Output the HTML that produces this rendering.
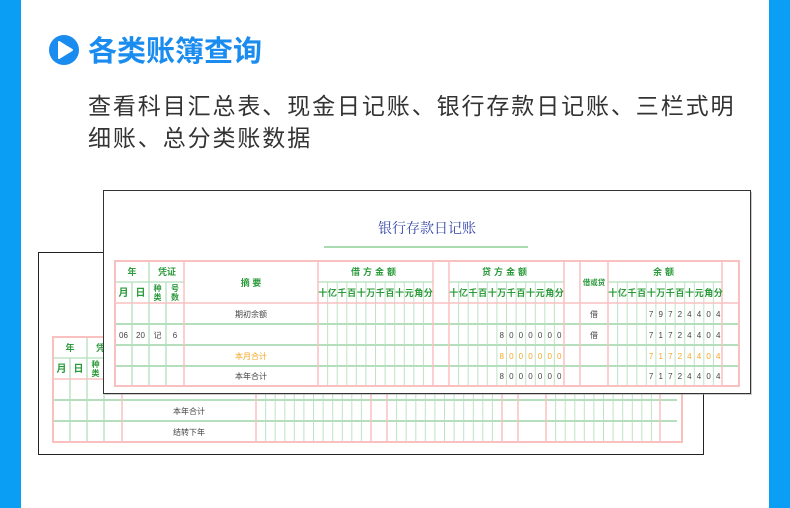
<!DOCTYPE html>
<html><head><meta charset="utf-8"><style>
html,body{margin:0;padding:0;background:#fff;}
svg{display:block;}
.h{font-family:"Liberation Sans","Noto Sans CJK SC",sans-serif;}
.g{fill:#2a9a3a;font-weight:bold;font-family:"Liberation Sans","Noto Sans CJK SC",sans-serif;}
.d{fill:#444;font-family:"Liberation Sans","Noto Sans CJK SC",sans-serif;font-size:8px;}
.o{fill:#f5a623;}
</style></head><body>
<svg width="790" height="508" viewBox="0 0 790 508" xmlns="http://www.w3.org/2000/svg">
<defs>
<g id="grid" fill="none">
  <path stroke="#bfe3c4" stroke-width="1" d="M212.6 21V125M222.2 21V125M231.8 21V125M241.3 21V125M250.9 21V125M260.5 21V125M270.1 21V125M279.7 21V125M289.3 21V125M298.8 21V125M308.4 21V125
  M343.6 21V125M353.2 21V125M362.8 21V125M372.3 21V125M381.9 21V125M391.5 21V125M401.1 21V125M410.7 21V125M420.3 21V125M429.8 21V125M439.4 21V125
  M502.6 21V125M512.2 21V125M521.8 21V125M531.3 21V125M540.9 21V125M550.5 21V125M560.1 21V125M569.7 21V125M579.3 21V125M588.8 21V125M598.4 21V125"/>
  <path stroke="#b5dfbc" stroke-width="1.3" d="M17 21V125M34 0V125M51 21V125M0 21H69M203 21H318M334 21H449M493 21H607"/>
  <path stroke="#b5dfbc" stroke-width="2" d="M0 63H624M0 84H624M0 105H624"/>
  <path stroke="#f9c0c0" stroke-width="1.5" d="M69 0V125M203 0V125M318 0V125M334 0V125M449 0V125M465 0V125M493 0V125M607 0V125M0 42H624"/>
</g>
<clipPath id="bc"><rect x="0" y="0" width="624" height="105"/></clipPath>
</defs>

<rect x="0" y="0" width="21" height="508" fill="#0a9ff5"/>
<rect x="769" y="0" width="21" height="508" fill="#0a9ff5"/>

<circle cx="64" cy="50" r="15" fill="#1a8cf0"/>
<path d="M59 42 L72 50 L59 58 Z" fill="#fff" stroke="#fff" stroke-width="2" stroke-linejoin="round"/>
<text x="88" y="61" class="h" font-size="29" font-weight="bold" fill="#1a8cf0">各类账簿查询</text>
<text x="88" y="114" class="h" font-size="23" fill="#333" letter-spacing="1.9">查看科目汇总表、现金日记账、银行存款日记账、三栏式明</text>
<text x="88" y="146" class="h" font-size="23" fill="#333" letter-spacing="1.9">细账、总分类账数据</text>

<rect x="38.5" y="252.5" width="665" height="202" fill="#fff" stroke="#222" stroke-width="1"/>
<g transform="translate(53,337)">
  <g clip-path="url(#bc)"><use href="#grid"/></g>
  <rect x="0" y="0" width="629" height="105" fill="none" stroke="#f9c0c0" stroke-width="2"/>
  <text x="17" y="14" class="g" font-size="9" text-anchor="middle">年</text>
  <text x="52" y="14" class="g" font-size="9" text-anchor="middle">凭证</text>
  <text x="8.5" y="35" class="g" font-size="10" text-anchor="middle">月</text>
  <text x="25.5" y="35" class="g" font-size="10" text-anchor="middle">日</text>
  <text x="42.5" y="30" class="g" font-size="8" text-anchor="middle">种</text>
  <text x="42.5" y="39" class="g" font-size="8" text-anchor="middle">类</text>
  <text x="136" y="56" class="d" text-anchor="middle">期初余额</text>
  <text x="136" y="77" class="d" text-anchor="middle">本年合计</text>
  <text x="136" y="98" class="d" text-anchor="middle">结转下年</text>
</g>

<rect x="105" y="192" width="647" height="203" fill="#999" opacity="0.5"/>
<rect x="103.5" y="190.5" width="647" height="203" fill="#fff" stroke="#333" stroke-width="1"/>
<text x="427" y="233" font-family="'Liberation Serif','Noto Serif CJK SC',serif" font-size="14" fill="#3344aa" text-anchor="middle">银行存款日记账</text>
<line x1="324" y1="247" x2="528" y2="247" stroke="#a8dcb0" stroke-width="2"/>

<g transform="translate(115,261)">
  <use href="#grid"/>
  <rect x="0" y="0" width="624" height="125" fill="none" stroke="#f9c0c0" stroke-width="2"/>
  <text x="17" y="14" class="g" font-size="9" text-anchor="middle">年</text>
  <text x="52" y="14" class="g" font-size="9" text-anchor="middle">凭证</text>
  <text x="136" y="25" class="g" font-size="9" text-anchor="middle">摘 要</text>
  <text x="260" y="14" class="g" font-size="9" text-anchor="middle" letter-spacing="3">借方金额</text>
  <text x="391" y="14" class="g" font-size="9" text-anchor="middle" letter-spacing="3">贷方金额</text>
  <text x="550" y="14" class="g" font-size="9" text-anchor="middle" letter-spacing="3">余额</text>
  <text x="479" y="24" class="g" font-size="7.5" text-anchor="middle">借或贷</text>
  <text x="8.5" y="35" class="g" font-size="10" text-anchor="middle">月</text>
  <text x="25.5" y="35" class="g" font-size="10" text-anchor="middle">日</text>
  <text x="42.5" y="30" class="g" font-size="8" text-anchor="middle">种</text>
  <text x="42.5" y="39" class="g" font-size="8" text-anchor="middle">类</text>
  <text x="60" y="30" class="g" font-size="8" text-anchor="middle">号</text>
  <text x="60" y="39" class="g" font-size="8" text-anchor="middle">数</text>
  <text class="g" font-size="9" text-anchor="middle" y="35" x="207.8 217.4 227 236.6 246.2 255.8 265.3 274.9 284.5 294.1 303.7 313.2">十亿千百十万千百十元角分</text>
  <text class="g" font-size="9" text-anchor="middle" y="35" x="338.8 348.4 358 367.6 377.2 386.8 396.3 405.9 415.5 425.1 434.7 444.2">十亿千百十万千百十元角分</text>
  <text class="g" font-size="9" text-anchor="middle" y="35" x="497.8 507.4 517 526.6 536.2 545.8 555.3 564.9 574.5 584.1 593.7 603.2">十亿千百十万千百十元角分</text>
  <text x="136" y="56" class="d" text-anchor="middle">期初余额</text>
  <text x="479" y="56" class="d" text-anchor="middle">借</text>
  <text class="d" text-anchor="middle" y="56" x="536.1 545.7 555.3 564.8 574.4 584 593.6 603.2">79724404</text>
  <text x="8.5" y="77" class="d" text-anchor="middle">06</text>
  <text x="25.5" y="77" class="d" text-anchor="middle">20</text>
  <text x="42.5" y="77" class="d" text-anchor="middle">记</text>
  <text x="60" y="77" class="d" text-anchor="middle">6</text>
  <text class="d" text-anchor="middle" y="77" x="386.7 396.3 405.9 415.5 425.1 434.7 444.2">8000000</text>
  <text x="479" y="77" class="d" text-anchor="middle">借</text>
  <text class="d" text-anchor="middle" y="77" x="536.1 545.7 555.3 564.8 574.4 584 593.6 603.2">71724404</text>
  <text x="136" y="98" class="d o" text-anchor="middle">本月合计</text>
  <text class="d o" text-anchor="middle" y="98" x="386.7 396.3 405.9 415.5 425.1 434.7 444.2">8000000</text>
  <text class="d o" text-anchor="middle" y="98" x="536.1 545.7 555.3 564.8 574.4 584 593.6 603.2">71724404</text>
  <text x="136" y="118" class="d" text-anchor="middle">本年合计</text>
  <text class="d" text-anchor="middle" y="118" x="386.7 396.3 405.9 415.5 425.1 434.7 444.2">8000000</text>
  <text class="d" text-anchor="middle" y="118" x="536.1 545.7 555.3 564.8 574.4 584 593.6 603.2">71724404</text>
</g>
</svg>
</body></html>
